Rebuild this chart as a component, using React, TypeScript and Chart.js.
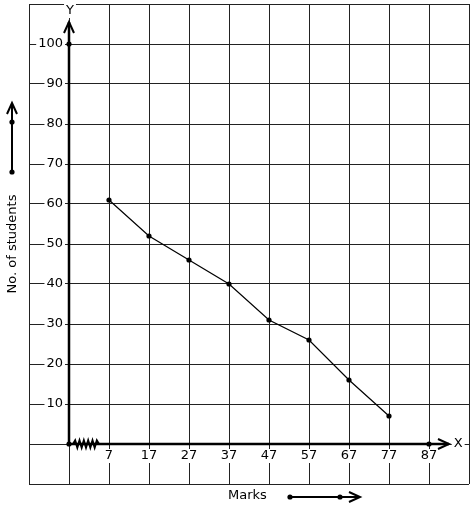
import React, { useEffect, useRef } from "react";
import { Chart, registerables } from "chart.js";

Chart.register(...registerables);

const marks = [7, 17, 27, 37, 47, 57, 67, 77];
const students = [61, 52, 46, 40, 31, 26, 16, 7];
const xTickLabels = ["7", "17", "27", "37", "47", "57", "67", "77", "87"];
const xTickValues = [7, 17, 27, 37, 47, 57, 67, 77, 87];
const yTickValues = [10, 20, 30, 40, 50, 60, 70, 80, 90, 100];
const gridXValues = [-13, -3, 7, 17, 27, 37, 47, 57, 67, 77, 87, 97];
const ORIGIN_X = -3;
const axisPointsX = [-3, -3, 87];
const axisPointsY = [0, 100, 0];

const FONT = '"DejaVu Sans", sans-serif';

function textWithBg(ctx: CanvasRenderingContext2D, text: string, x: number, y: number, align: CanvasTextAlign) {
  ctx.font = `13px ${FONT}`;
  const w = ctx.measureText(text).width;
  let left = x;
  if (align === "center") left = x - w / 2;
  else if (align === "right") left = x - w;
  ctx.fillStyle = "#ffffff";
  ctx.fillRect(left - 2, y - 7, w + 4, 14);
  ctx.fillStyle = "#000000";
  ctx.textAlign = align;
  ctx.textBaseline = "middle";
  ctx.fillText(text, x, y);
}

function dot(ctx: CanvasRenderingContext2D, x: number, y: number) {
  ctx.beginPath();
  ctx.arc(x, y, 2.6, 0, Math.PI * 2);
  ctx.fillStyle = "#000";
  ctx.fill();
}

const decorPlugin = {
  id: "decor",
  beforeDatasetsDraw(chart: any) {
    const ctx: CanvasRenderingContext2D = chart.ctx;
    const xs = chart.scales.x;
    const ys = chart.scales.y;
    const ox = xs.getPixelForValue(ORIGIN_X);
    const oy = ys.getPixelForValue(0);
    ctx.save();
    yTickValues.forEach((v) => {
      textWithBg(ctx, String(v), ox - 6, ys.getPixelForValue(v), "right");
    });
    xTickValues.forEach((v, i) => {
      textWithBg(ctx, xTickLabels[i], xs.getPixelForValue(v), oy + 12, "center");
    });
    textWithBg(ctx, "Y", ox + 1, ys.top + 7, "center");
    textWithBg(ctx, "X", xs.getPixelForValue(94.3), oy, "center");

    ctx.strokeStyle = "#000";
    ctx.lineWidth = 2.5;
    ctx.lineCap = "butt";
    const tipY = ys.getPixelForValue(105.5);
    ctx.beginPath();
    ctx.moveTo(ox, oy);
    ctx.lineTo(ox, tipY);
    ctx.stroke();
    ctx.lineWidth = 2;
    ctx.beginPath();
    ctx.moveTo(ox - 5, tipY + 11);
    ctx.lineTo(ox, tipY);
    ctx.lineTo(ox + 5, tipY + 11);
    ctx.stroke();
    const tipX = xs.getPixelForValue(92);
    ctx.lineWidth = 2.5;
    ctx.beginPath();
    ctx.moveTo(ox, oy);
    ctx.lineTo(tipX, oy);
    ctx.stroke();
    ctx.lineWidth = 2;
    ctx.beginPath();
    ctx.moveTo(tipX - 11, oy - 5);
    ctx.lineTo(tipX, oy);
    ctx.lineTo(tipX - 11, oy + 5);
    ctx.stroke();
    // zigzag break
    const zx0 = xs.getPixelForValue(-2);
    const zx1 = xs.getPixelForValue(4.5);
    const n = 12;
    ctx.lineWidth = 2;
    ctx.beginPath();
    ctx.moveTo(zx0, oy);
    for (let i = 1; i <= n; i++) {
      const x = zx0 + ((zx1 - zx0) * i) / n;
      const y = i === n ? oy : oy + (i % 2 === 1 ? -3.5 : 3.5);
      ctx.lineTo(x, y);
    }
    ctx.stroke();
    ctx.restore();
  },
  afterDraw(chart: any) {
    const ctx: CanvasRenderingContext2D = chart.ctx;
    ctx.save();
    ctx.fillStyle = "#000";
    ctx.font = `13px ${FONT}`;
    ctx.save();
    ctx.translate(13, 244);
    ctx.rotate(-Math.PI / 2);
    ctx.textAlign = "center";
    ctx.textBaseline = "middle";
    ctx.fillText("No. of students", 0, 0);
    ctx.restore();
    ctx.textAlign = "left";
    ctx.textBaseline = "middle";
    ctx.fillText("Marks", 228, 496);

    ctx.strokeStyle = "#000";
    ctx.lineWidth = 2;
    ctx.beginPath();
    ctx.moveTo(12, 172);
    ctx.lineTo(12, 103);
    ctx.stroke();
    ctx.beginPath();
    ctx.moveTo(7, 114);
    ctx.lineTo(12, 103);
    ctx.lineTo(17, 114);
    ctx.stroke();
    dot(ctx, 12, 122);
    dot(ctx, 12, 172);
    ctx.beginPath();
    ctx.moveTo(290, 497);
    ctx.lineTo(360, 497);
    ctx.stroke();
    ctx.beginPath();
    ctx.moveTo(349, 492);
    ctx.lineTo(360, 497);
    ctx.lineTo(349, 502);
    ctx.stroke();
    dot(ctx, 290, 497);
    dot(ctx, 340, 497);
    ctx.restore();
  },
};

export default function App() {
  const ref = useRef<HTMLCanvasElement | null>(null);
  useEffect(() => {
    if (!ref.current) return;
    const chart = new Chart(ref.current, {
      type: "scatter",
      data: {
        datasets: [
          {
            data: marks.map((m, i) => ({ x: m, y: students[i] })),
            showLine: true,
            borderColor: "#000",
            borderWidth: 1.2,
            backgroundColor: "#000",
            pointRadius: 2.6,
            pointHoverRadius: 2.6,
            pointBorderWidth: 0,
          },
          {
            data: axisPointsX.map((x, i) => ({ x, y: axisPointsY[i] })),
            showLine: false,
            backgroundColor: "#000",
            borderColor: "#000",
            pointRadius: 2.6,
            pointBorderWidth: 0,
          },
        ],
      },
      options: {
        responsive: false,
        animation: false,
        events: [],
        layout: { padding: { left: 29, top: 4, right: 5, bottom: 26 } },
        plugins: { legend: { display: false }, tooltip: { enabled: false } },
        scales: {
          x: {
            type: "linear",
            min: -13,
            max: 97,
            afterBuildTicks: (scale: any) => {
              scale.ticks = gridXValues.map((v) => ({ value: v }));
            },
            afterFit: (scale: any) => {
              scale.height = 0;
            },
            ticks: { display: false },
            border: { display: false },
            grid: { color: "#222", lineWidth: 1, drawTicks: false },
          },
          y: {
            type: "linear",
            min: -10,
            max: 110,
            ticks: { display: false, stepSize: 10 },
            afterFit: (scale: any) => {
              scale.width = 0;
            },
            border: { display: false },
            grid: { color: "#222", lineWidth: 1, drawTicks: false },
          },
        },
      },
      plugins: [decorPlugin],
    });
    return () => chart.destroy();
  }, []);
  return (
    <div style={{ position: "absolute", left: 0, top: 0, width: 474, height: 510, background: "#fff" }}>
      <canvas ref={ref} width={474} height={510} />
    </div>
  );
}
